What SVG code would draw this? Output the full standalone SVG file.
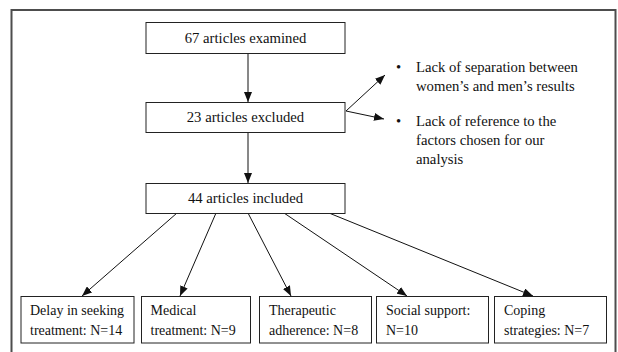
<svg xmlns="http://www.w3.org/2000/svg" width="618" height="352" viewBox="0 0 618 352">
<style>
.box{fill:#fff;stroke:#222;stroke-width:1}
.t{font-family:"Liberation Serif","Times New Roman",serif;font-size:14.7px;fill:#111}
.s{font-size:14px}
.c{text-anchor:middle}
.ln{stroke:#111;stroke-width:1;fill:none}
</style>
<defs>
<marker id="ah" markerWidth="10" markerHeight="8" refX="10" refY="4" orient="auto" markerUnits="userSpaceOnUse">
<path d="M0,0 L10,4 L0,8 Z" fill="#111"/>
</marker>
</defs>
<rect x="0" y="0" width="618" height="352" fill="#fff"/>
<rect x="11.5" y="10" width="604" height="360" fill="none" stroke="#4d4d4d" stroke-width="2"/>
<g id="connectors">
<line class="ln" x1="248" y1="53" x2="248" y2="102" marker-end="url(#ah)"/>
<line class="ln" x1="248" y1="132" x2="248" y2="183" marker-end="url(#ah)"/>
<line class="ln" x1="346" y1="111" x2="385" y2="75" marker-end="url(#ah)"/>
<line class="ln" x1="346" y1="111" x2="384" y2="119" marker-end="url(#ah)"/>
<line class="ln" x1="177" y1="213" x2="82" y2="296" marker-end="url(#ah)"/>
<line class="ln" x1="216" y1="213" x2="180" y2="296" marker-end="url(#ah)"/>
<line class="ln" x1="248" y1="213" x2="291" y2="296" marker-end="url(#ah)"/>
<line class="ln" x1="284" y1="213" x2="407" y2="296" marker-end="url(#ah)"/>
<line class="ln" x1="329" y1="213" x2="533" y2="296" marker-end="url(#ah)"/>
</g>
<g id="n1"><rect class="box" x="146" y="22.5" width="199" height="31"/><text class="t c" x="245.5" y="42.5">67 articles examined</text></g>
<g id="n2"><rect class="box" x="146" y="102.5" width="199" height="30"/><text class="t c" x="245.5" y="121.5">23 articles excluded</text></g>
<g id="n3"><rect class="box" x="146" y="183.5" width="199" height="30"/><text class="t c" x="245.5" y="202.5">44 articles included</text></g>
<g id="notes">
<text class="t" x="396" y="72">•</text>
<text class="t" x="416" y="72">Lack of separation between</text>
<text class="t" x="416" y="91">women’s and men’s results</text>
<text class="t" x="396" y="126">•</text>
<text class="t" x="416" y="126">Lack of reference to the</text>
<text class="t" x="416" y="145">factors chosen for our</text>
<text class="t" x="416" y="164">analysis</text>
</g>
<g id="b1"><rect class="box" x="21" y="296.5" width="113" height="46.5"/><text class="t s" x="30" y="315">Delay in seeking</text><text class="t s" x="30" y="335">treatment: N=14</text></g>
<g id="b2"><rect class="box" x="141.5" y="296.5" width="109" height="46.5"/><text class="t s" x="150.5" y="315">Medical</text><text class="t s" x="150.5" y="335">treatment: N=9</text></g>
<g id="b3"><rect class="box" x="259.5" y="296.5" width="112" height="46.5"/><text class="t s" x="269" y="315">Therapeutic</text><text class="t s" x="269" y="335">adherence: N=8</text></g>
<g id="b4"><rect class="box" x="376.5" y="296.5" width="112" height="46.5"/><text class="t s" x="386" y="315">Social support:</text><text class="t s" x="386" y="335">N=10</text></g>
<g id="b5"><rect class="box" x="494.5" y="296.5" width="112" height="46.5"/><text class="t s" x="504" y="315">Coping</text><text class="t s" x="504" y="335">strategies: N=7</text></g>
</svg>
